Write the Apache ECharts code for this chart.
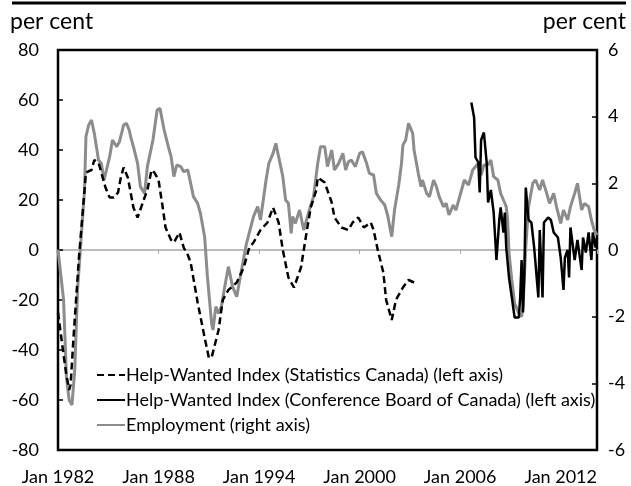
<!DOCTYPE html>
<html>
<head>
<meta charset="utf-8">
<title>Help-Wanted Index and Employment</title>
<script src="https://cdn.jsdelivr.net/npm/echarts@6/dist/echarts.min.js"></script>
<style>
  html, body { margin: 0; padding: 0; background: #fff; }
</style>
</head>
<body>
<div id="main" style="width: 631px;height:486px;"></div>
<script type="text/javascript">
// x axis labels, one every 72 months from Jan 1982
var xTickLabels = ['Jan 1982', 'Jan 1988', 'Jan 1994', 'Jan 2000', 'Jan 2006', 'Jan 2012'];

// Help-Wanted Index (Statistics Canada), per cent, left axis
var hwiStatDates = ['1982-01','1982-05','1982-07','1982-09','1982-10','1982-12','1983-04','1983-08','1983-09',
  '1984-01','1984-03','1984-06','1984-08','1984-11','1985-02','1985-05','1985-08','1985-10','1985-12',
  '1986-03','1986-05','1986-07','1986-10','1987-03','1987-05','1987-08','1987-10','1988-01','1988-04',
  '1988-06','1988-10','1988-12','1989-04','1989-07','1989-10','1989-12','1990-05','1990-10','1991-01',
  '1991-03','1991-08','1991-11','1992-03','1992-09','1993-02','1993-06','1993-09','1994-02','1994-07',
  '1994-11','1995-03','1995-06','1995-10','1996-02','1996-07','1996-11','1997-02','1997-06','1997-07',
  '1997-12','1998-05','1998-07','1998-12','1999-05','1999-08','1999-12','2000-04','2000-09','2000-11',
  '2001-02','2001-06','2001-08','2001-12','2002-03','2002-08','2002-12','2003-04'];
var hwiStatValues = [-25,-42,-50,-56,-54,-36,-3,24,31,
  32,36,35,31,25,21,21,23,29,33,
  29,23,17,13,21,24,32,31,28,17,
  9,4,3,7,1,-2,-5,-21,-35,-43,
  -43,-32,-20,-16,-13,-7,1,3,8,11,
  17,11,0,-11,-15,-7,7,17,24,29,
  27,19,13,9,8,11,13,9,11,8,
  0,-9,-20,-28,-20,-15,-12,-13];

// Help-Wanted Index (Conference Board of Canada), per cent, left axis
var hwiCbDates = ['2006-09','2006-11','2006-12','2007-02','2007-03','2007-04','2007-06','2007-08','2007-09',
  '2007-11','2008-01','2008-03','2008-05','2008-06','2008-08','2008-09','2008-10','2008-12','2009-03',
  '2009-04','2009-07','2009-08','2009-09','2009-10','2009-11','2009-12','2010-02','2010-04','2010-06',
  '2010-09','2010-10','2010-12','2011-01','2011-04','2011-06','2011-08','2011-11','2012-01','2012-03',
  '2012-04','2012-06','2012-07','2012-08','2012-11','2013-01','2013-04','2013-05','2013-07','2013-09',
  '2013-11','2013-12','2014-02','2014-03'];
var hwiCbValues = [59,53,37,35,23,44,47,35,19,
  24,15,-4,12,17,7,15,1,-11,-23,
  -27,-27,-19,-4,-25,-9,25,12,11,1,
  -19,8,-19,11,13,12,7,5,-3,-16,
  -3,0,-11,9,-4,4,-8,5,-1,7,
  -4,7,1,5];

// Employment, per cent, right axis
var empDates = ['1982-01','1982-05','1982-07','1982-09','1982-11','1983-01','1983-03','1983-05','1983-08','1983-09',
  '1983-11','1984-01','1984-03','1984-06','1984-08','1984-10','1985-02','1985-04','1985-07','1985-09',
  '1985-12','1986-02','1986-04','1986-05','1986-07','1986-10','1986-12','1987-03','1987-05','1987-09',
  '1987-12','1988-02','1988-05','1988-08','1988-10','1988-12','1989-02','1989-05','1989-07','1989-10',
  '1989-12','1990-02','1990-05','1990-07','1990-10','1990-12','1991-03','1991-04','1991-06','1991-08',
  '1991-10','1991-12','1992-03','1992-06','1992-09','1992-12','1993-04','1993-09','1993-12','1994-02',
  '1994-04','1994-06','1994-08','1994-11','1995-01','1995-03','1995-06','1995-08','1995-10','1995-12',
  '1996-01','1996-03','1996-06','1996-09','1997-01','1997-04','1997-07','1997-09','1997-12','1998-02',
  '1998-05','1998-07','1998-10','1999-01','1999-03','1999-05','1999-07','1999-10','2000-01','2000-03',
  '2000-06','2000-08','2000-11','2001-01','2001-04','2001-07','2001-09','2001-12','2002-02','2002-05',
  '2002-07','2002-08','2002-10','2002-12','2003-03','2003-04','2003-07','2003-09','2003-10','2004-01',
  '2004-03','2004-06','2004-08','2004-10','2005-01','2005-03','2005-05','2005-08','2005-10','2005-12',
  '2006-04','2006-07','2006-10','2007-02','2007-04','2007-06','2007-09','2007-11','2008-01','2008-04',
  '2008-06','2008-08','2008-10','2008-11','2008-12','2009-02','2009-04','2009-07','2009-09','2009-10',
  '2009-12','2010-02','2010-05','2010-07','2010-10','2010-12','2011-03','2011-05','2011-08','2011-10',
  '2012-01','2012-03','2012-06','2012-08','2012-11','2013-01','2013-04','2013-06','2013-09','2013-11',
  '2014-01','2014-03'];
var empValues = [0.0,-1.5,-3.8,-4.5,-4.65,-3.6,-1.2,0.0,1.8,3.4,
  3.75,3.9,3.5,2.7,2.6,2.1,2.8,3.3,3.1,3.25,
  3.75,3.8,3.6,3.4,3.1,2.6,1.9,1.7,2.5,3.3,
  4.2,4.25,3.6,3.1,2.8,2.2,2.55,2.5,2.35,2.4,
  2.0,1.6,1.4,1.1,0.4,-0.8,-2.2,-2.4,-1.7,-1.9,
  -1.7,-1.2,-0.5,-1.1,-1.4,-0.7,0.2,1.0,1.3,0.9,
  1.5,2.1,2.6,2.9,3.2,2.8,2.2,1.5,1.4,0.5,
  1.0,0.8,1.2,0.6,1.2,1.6,2.6,3.1,3.1,2.5,
  3.0,2.4,2.6,2.9,2.4,2.65,2.7,2.5,2.9,2.95,
  2.6,2.3,2.25,1.7,1.5,1.35,1.05,0.4,1.2,1.95,
  2.6,3.15,3.3,3.8,3.5,3.0,2.3,1.9,2.1,1.7,
  1.6,2.1,1.9,1.6,1.3,1.4,1.05,1.35,1.2,1.5,
  2.1,1.95,2.4,2.6,2.25,2.55,2.55,2.7,2.2,2.1,
  1.7,1.5,1.3,0.9,-0.1,-0.9,-1.6,-1.9,-2.0,-1.7,
  0.1,1.3,2.0,2.1,1.8,2.1,1.7,1.4,1.7,1.3,
  0.8,1.2,0.9,1.3,1.7,2.0,1.2,1.4,1.3,0.9,
  0.6,0.45];

// months counted from Jan 1982
function monthIndex(s) {
  var p = s.split('-');
  return (parseInt(p[0], 10) - 1982) * 12 + parseInt(p[1], 10) - 1;
}
function pairs(dates, values) {
  var out = [];
  for (var i = 0; i < dates.length; i++) {
    out.push([monthIndex(dates[i]), values[i]]);
  }
  return out;
}

var FONT = 'Lato';
var myChart = echarts.init(document.getElementById('main'));

var option = {
  animation: false,
  textStyle: { fontFamily: FONT, color: '#000' },
  grid: {
    left: 58, right: 34, top: 50, bottom: 36,
    show: true, borderColor: '#000', borderWidth: 2.5,
    containLabel: false
  },
  graphic: [
    { type: 'line', shape: { x1: 12, y1: 3, x2: 626, y2: 3 }, style: { stroke: '#000', lineWidth: 3 } },
    { type: 'text', left: 10, top: 10, style: { text: 'per cent', font: '23px Lato', fill: '#000' } },
    { type: 'text', right: 5, top: 10, style: { text: 'per cent', font: '23px Lato', fill: '#000' } }
  ],
  legend: {
    orient: 'vertical',
    left: 96, top: 366, padding: 0,
    itemWidth: 28, itemHeight: 14, itemGap: 7,
    itemStyle: { opacity: 0 },
    textStyle: { fontFamily: FONT, fontSize: 18, color: '#000', padding: [0, 0, 0, -4] },
    data: [
      'Help-Wanted Index (Statistics Canada) (left axis)',
      'Help-Wanted Index (Conference Board of Canada) (left axis)',
      'Employment (right axis)'
    ]
  },
  xAxis: [
    {
      type: 'value', min: 0, max: 386, interval: 72,
      position: 'bottom',
      axisLine: { show: false, onZero: false },
      axisTick: { show: false },
      splitLine: { show: false },
      axisLabel: {
        fontFamily: FONT, fontSize: 18, color: '#000', margin: 18,
        formatter: function (v) { return xTickLabels[Math.round(v / 72)] || ''; }
      }
    },
    {
      type: 'value', min: 0, max: 386, interval: 72,
      position: 'bottom',
      axisLine: { show: true, onZero: true, onZeroAxisIndex: 0, lineStyle: { color: '#a6a6a6', width: 1.5 } },
      axisTick: { show: true, length: 4, lineStyle: { color: '#a6a6a6', width: 1 } },
      splitLine: { show: false },
      axisLabel: { show: false }
    }
  ],
  yAxis: [
    {
      type: 'value', min: -80, max: 80, interval: 20,
      position: 'left',
      axisLine: { show: false, onZero: false },
      axisTick: { show: true, inside: true, length: 5, lineStyle: { color: '#000', width: 1.5 } },
      splitLine: { show: false },
      axisLabel: { fontFamily: FONT, fontSize: 18, color: '#000', margin: 19 }
    },
    {
      type: 'value', min: -6, max: 6, interval: 2,
      position: 'right',
      axisLine: { show: false, onZero: false },
      axisTick: { show: true, inside: true, length: 5, lineStyle: { color: '#000', width: 1.5 } },
      splitLine: { show: false },
      axisLabel: { fontFamily: FONT, fontSize: 18, color: '#000', margin: 11 }
    }
  ],
  series: [
    {
      name: 'Employment (right axis)',
      type: 'line', xAxisIndex: 0, yAxisIndex: 1,
      symbol: 'none',
      lineStyle: { color: '#8c8c8c', width: 3 },
      itemStyle: { color: '#8c8c8c' },
      data: pairs(empDates, empValues)
    },
    {
      name: 'Help-Wanted Index (Statistics Canada) (left axis)',
      type: 'line', xAxisIndex: 0, yAxisIndex: 0,
      symbol: 'none',
      lineStyle: { color: '#000', width: 2.5, type: [7, 4] },
      itemStyle: { color: '#000' },
      data: pairs(hwiStatDates, hwiStatValues)
    },
    {
      name: 'Help-Wanted Index (Conference Board of Canada) (left axis)',
      type: 'line', xAxisIndex: 0, yAxisIndex: 0,
      symbol: 'none',
      lineStyle: { color: '#000', width: 2.5 },
      itemStyle: { color: '#000' },
      data: pairs(hwiCbDates, hwiCbValues)
    }
  ]
};

myChart.setOption(option);
</script>
</body>
</html>
